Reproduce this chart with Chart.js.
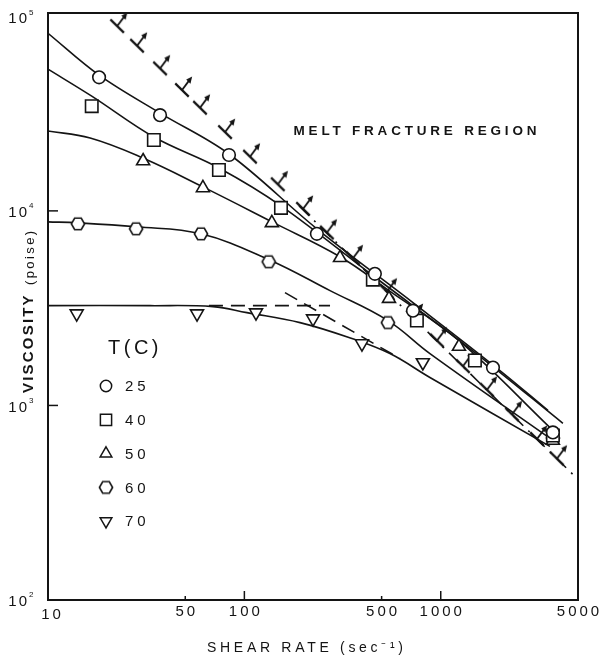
<!DOCTYPE html>
<html><head><meta charset="utf-8">
<script src="https://cdn.jsdelivr.net/npm/chart.js@4.4.0/dist/chart.umd.min.js"></script>
<style>html,body{margin:0;padding:0;background:#fff}#wrap{width:599px;height:661px;position:relative}</style>
</head><body><div id="wrap"><canvas id="c" width="599" height="661"></canvas></div>
<script>
// ---- tick labels / categories ----
const shearTicks = [10, 50, 100, 500, 1000, 5000];
const viscTicks = [100, 1000, 10000, 100000];
const legendLabels = ['25', '40', '50', '60', '70'];

// ---- measured points (shear rate 1/s, viscosity poise) ----
const t25x = [18.2, 37.2, 83.5, 234, 462, 722, 1845, 3725];
const t25y = [48600, 31050, 19370, 7620, 4750, 3070, 1566, 727];
const t40x = [16.7, 34.6, 74.2, 153.6, 451, 756, 1493, 3725];
const t40y = [34530, 23130, 16230, 10360, 4430, 2730, 1702, 700];
const t50x = [30.5, 61.5, 138, 307, 545, 1238, 3725];
const t50y = [18050, 13120, 8680, 5740, 3540, 2008, 660];
const t60x = [14.2, 28.1, 60.1, 133, 538, 3725];
const t60y = [8580, 8090, 7620, 5480, 2665, 680];
const t70x = [14.0, 57.4, 114.6, 223.7, 397, 811];
const t70y = [2965, 2965, 3000, 2794, 2080, 1662];

// ---- curves ----
const c25x = [10, 18.2, 37.2, 83.5, 234, 722, 2002, 3515];
const c25y = [81800, 49820, 31810, 19600, 8090, 3375, 1512, 943];
const c40x = [10, 16.7, 34.6, 74.2, 153.6, 452, 1494, 4190];
const c40y = [53500, 38880, 23960, 16620, 10610, 4640, 1870, 809];
const c50x = [10, 16.4, 30.4, 61.5, 138.2, 307, 545, 1238, 3726];
const c50y = [25720, 23680, 18700, 13280, 8780, 5810, 3890, 2154, 744];
const c60x = [10, 14.2, 28.1, 60.1, 133.5, 273, 538, 881, 3726];
const c60y = [8780, 8680, 8280, 7620, 5610, 3890, 2730, 1848, 662];
const c70x = [10, 33.1, 69.2, 103, 192, 353, 551, 881, 3597];
const c70y = [3257, 3257, 3220, 3000, 2665, 2206, 1848, 1392, 616];
const d70hx = [66, 273];
const d70hy = [3257, 3257];
const d70sx = [161, 620];
const d70sy = [3800, 1742];
// melt fracture boundary (dash-dot part visible in the lower region)
const mfLineX = [190, 4936];
const mfLineY = [10610, 422];
const mfMarkX = [22.5, 28.4, 37.2, 48.1, 59.4, 79.7, 106.8, 148, 199, 263, 357, 532, 722, 957, 1297, 1718, 2305, 3090, 3905];
const mfMarkY = [89100, 70600, 54000, 41800, 33900, 25400, 19000, 13700, 10240, 7740, 5710, 3850, 2850, 2155, 1592, 1204, 900, 673, 533];

const zip = (xs, ys) => xs.map((v, i) => ({x: v, y: ys[i]}));
const INK = '#141414';
const FONT = '"Liberation Sans", Arial, sans-serif';

// hexagon marker
const hex = document.createElement('canvas');
hex.width = 18; hex.height = 18;
(function(){const g = hex.getContext('2d'); g.beginPath();
  for (let i = 0; i < 6; i++) { const a = Math.PI / 3 * i; const px = 9 + 6.6 * Math.cos(a), py = 9 + 6.6 * Math.sin(a); i ? g.lineTo(px, py) : g.moveTo(px, py); }
  g.closePath(); g.fillStyle = '#fff'; g.fill(); g.lineWidth = 1.6; g.strokeStyle = INK; g.stroke();})();

// melt-fracture marker (base + stem + arrow)
const mfm = document.createElement('canvas');
mfm.width = 44; mfm.height = 44;
(function(){const g = mfm.getContext('2d'); const c = 22; const d = [0.71, 0.70], n = [0.6, -0.8];
  g.strokeStyle = INK; g.fillStyle = INK; g.lineWidth = 2.2; g.lineCap = 'butt';
  g.beginPath(); g.moveTo(c - 9.5 * d[0], c - 9.5 * d[1]); g.lineTo(c + 9.5 * d[0], c + 9.5 * d[1]); g.stroke();
  g.lineWidth = 1.8;
  g.beginPath(); g.moveTo(c, c); g.lineTo(c + 12 * n[0], c + 12 * n[1]); g.stroke();
  g.beginPath(); g.moveTo(c + 17 * n[0], c + 17 * n[1]);
  g.lineTo(c + 10.5 * n[0] + 3 * d[0], c + 10.5 * n[1] + 3 * d[1]);
  g.lineTo(c + 10.5 * n[0] - 3 * d[0], c + 10.5 * n[1] - 3 * d[1]); g.closePath(); g.fill();})();

const markerStyles = [
  {pointStyle: 'circle', r: 6.3, rot: 0},
  {pointStyle: 'rect', r: 8.8, rot: 0},
  {pointStyle: 'triangle', r: 7.5, rot: 0},
  {pointStyle: hex, r: 6.5, rot: 0},
  {pointStyle: 'triangle', r: 7.5, rot: 180}
];
const seriesX = [t25x, t40x, t50x, t60x, t70x];
const seriesY = [t25y, t40y, t50y, t60y, t70y];

function curve(xs, ys, dash, tension) {
  return {type: 'line', data: zip(xs, ys), borderColor: INK, borderWidth: 1.6, borderDash: dash || [],
    pointRadius: 0, tension: tension || 0, fill: false, order: 2};
}

const datasets = [
  curve(c25x, c25y, null, 0.35),
  curve(c40x, c40y, null, 0.35),
  curve(c50x, c50y, null, 0.4),
  curve(c60x, c60y, null, 0.4),
  curve(c70x, c70y, null, 0.4),
  curve(d70hx, d70hy, [14, 8]),
  curve(d70sx, d70sy, [14, 8]),
  curve(mfLineX, mfLineY, [14, 7, 2, 7]),
  {type: 'scatter', data: zip(mfMarkX, mfMarkY), pointStyle: mfm, pointRadius: 10, pointBackgroundColor: INK, pointBorderColor: INK, order: 1}
];
seriesX.forEach((xs, i) => {
  const m = markerStyles[i];
  datasets.push({type: 'scatter', label: legendLabels[i], data: zip(xs, seriesY[i]), pointStyle: m.pointStyle,
    pointRadius: m.r, pointRotation: m.rot, pointBackgroundColor: '#fff', pointBorderColor: INK, pointBorderWidth: 1.6, order: 0});
});

function txt(ctx, s, x, y, font, align, spacing) {
  ctx.font = font; ctx.textAlign = align || 'left'; ctx.textBaseline = 'middle';
  try { ctx.letterSpacing = (spacing || 0) + 'px'; } catch (e) {}
  let xx = x;
  if (spacing && align === 'center') xx = x + spacing / 2;
  if (spacing && align === 'right') xx = x + spacing;
  ctx.fillText(s, xx, y);
  try { ctx.letterSpacing = '0px'; } catch (e) {}
}

const decor = {
  id: 'decor',
  afterDraw(chart) {
    const {ctx, chartArea: a, scales: {x, y}} = chart;
    ctx.save();
    ctx.strokeStyle = INK; ctx.fillStyle = INK;
    ctx.lineWidth = 2;
    ctx.strokeRect(a.left, a.top, a.right - a.left, a.bottom - a.top);
    ctx.lineWidth = 1.5;
    shearTicks.forEach(v => {
      if (v === 10 || v === 5000) return;
      const px = x.getPixelForValue(v); const major = Math.abs(Math.log10(v) % 1) < 1e-6;
      ctx.beginPath(); ctx.moveTo(px, a.bottom); ctx.lineTo(px, a.bottom - (major ? 9 : 4)); ctx.stroke();
    });
    viscTicks.forEach(v => {
      if (v === 100 || v === 100000) return;
      const py = y.getPixelForValue(v);
      ctx.beginPath(); ctx.moveTo(a.left, py); ctx.lineTo(a.left + 10, py); ctx.stroke();
    });
    // x tick labels
    shearTicks.forEach(v => {
      const px = x.getPixelForValue(v) + (v === 10 ? 3 : 0);
      txt(ctx, String(v), px, v === 10 ? 615 : 612, '15px ' + FONT, 'center', 3);
    });
    // y tick labels 10^n
    viscTicks.forEach(v => {
      const py = y.getPixelForValue(v) + (v === 100000 ? 3 : 2);
      const e = Math.round(Math.log10(v));
      txt(ctx, '10', 27, py, '15px ' + FONT, 'right', 2);
      txt(ctx, String(e), 29, py - 7, '8px ' + FONT, 'left', 0);
    });
    // axis titles
    txt(ctx, 'SHEAR RATE (sec\u207B\u00B9)', 305, 648, '14px ' + FONT, 'center', 3.7);
    ctx.save(); ctx.translate(29, 310); ctx.rotate(-Math.PI / 2);
    txt(ctx, 'VISCOSITY', -83, 0, 'bold 15px ' + FONT, 'left', 2.2);
    txt(ctx, '(poise)', 25, 1, '13px ' + FONT, 'left', 2.4);
    ctx.restore();
    // region label
    txt(ctx, 'MELT FRACTURE REGION', 415, 131, 'bold 13.5px ' + FONT, 'center', 3.8);
    // legend
    txt(ctx, 'T(C)', 108, 348, '20px ' + FONT, 'left', 3.5);
    legendLabels.forEach((lab, i) => {
      const cy = 386 + i * 33.8; const m = markerStyles[i];
      ctx.save(); ctx.fillStyle = '#fff'; ctx.strokeStyle = INK; ctx.lineWidth = 1.5;
      Chart.helpers.drawPoint(ctx, {pointStyle: m.pointStyle, radius: m.r * 0.9, rotation: m.rot, borderWidth: 1.5}, 106, cy);
      ctx.restore();
      ctx.fillStyle = INK;
      txt(ctx, lab, 125, cy + 1, '15px ' + FONT, 'left', 4);
    });
    ctx.restore();
  }
};

new Chart(document.getElementById('c'), {
  data: {datasets},
  options: {
    responsive: false, animation: false, devicePixelRatio: 1,
    layout: {padding: {left: 48, right: 21, top: 13, bottom: 61}},
    plugins: {legend: {display: false}, tooltip: {enabled: false}},
    scales: {
      x: {type: 'logarithmic', min: 10, max: 5000, display: false},
      y: {type: 'logarithmic', min: 100, max: 104000, display: false}
    }
  },
  plugins: [decor]
});
</script></body></html>
